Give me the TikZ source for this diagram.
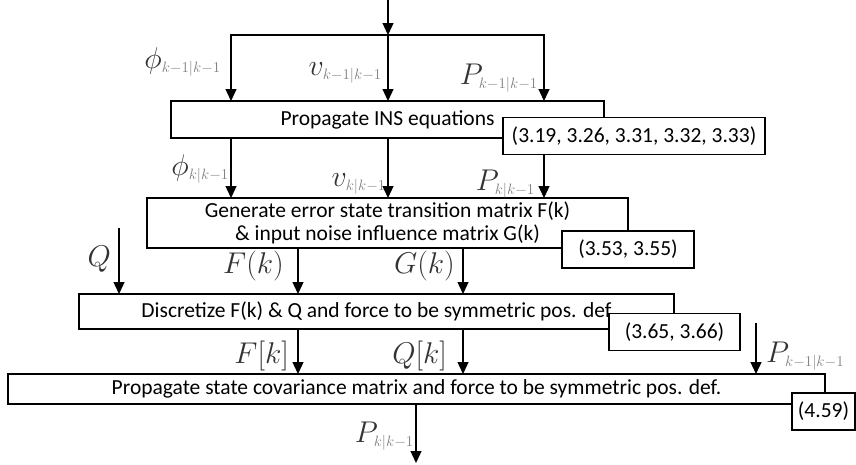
\RequirePackage{fix-cm}
\documentclass[tikz,border=0pt]{standalone}
\usepackage{fontspec}
\setmainfont{Carlito}
\usetikzlibrary{positioning, arrows.meta}

\newcommand{\lblsub}[1]{{\scriptscriptstyle\color{black!50}#1}}

\begin{document}
\begin{tikzpicture}[
  x=1pt, y=-1pt,
  font=\fontsize{21.5}{23.5}\selectfont,
  >={Triangle[width=11pt,length=12pt]},
  procbox/.style={
    draw, line width=1.1pt, fill=white, inner sep=0pt, outer sep=0pt,
    align=center
  },
  eqref/.style={procbox, minimum height=37pt},
  flow/.style={->, line width=1.3pt},
  var/.style={font=\fontsize{30}{32}\selectfont, text=black!80, inner sep=0pt}
]

\useasboundingbox (0,0) rectangle (856,464);

% Processing stages
\node[procbox, minimum width=433pt, minimum height=37pt] (ins) at (387.5,119.5) {Propagate INS equations};
\node[procbox, minimum width=481pt, minimum height=50pt] (trans) at (387.5,223) {Generate error state transition matrix F(k)\\ \& input noise influence matrix G(k)};
\node[procbox, minimum width=595pt, minimum height=35pt] (disc) at (376.5,311.5) {Discretize F(k) \& Q and force to be symmetric pos. def};
\node[procbox, minimum width=817pt, minimum height=30pt] (cov) at (416.5,389) {Propagate state covariance matrix and force to be symmetric pos. def.};

% Column positions
\coordinate (src) at (388,0);
\coordinate (c1) at (231,35);
\coordinate (c2) at (388,35);
\coordinate (c3) at (544,35);
\coordinate (qin) at (119,228);
\coordinate (fcol) at (298,0);
\coordinate (gcol) at (463,0);
\coordinate (pin) at (756,323);
\coordinate (pout) at (416,463);

% Top bus into INS propagation
\draw[flow] (src) -- (c2);
\draw[line width=1.3pt] (c1) -- (c3);
\draw[flow] (c2) -| (c1 |- ins.north);
\draw[flow] (c2) -- (c2 |- ins.north);
\draw[flow] (c2) -| (c3 |- ins.north);

% INS propagation -> transition matrices
\draw[flow] (c1 |- ins.south) -- (c1 |- trans.north);
\draw[flow] (c2 |- ins.south) -- (c2 |- trans.north);
\draw[flow] (c3 |- ins.south) -- (c3 |- trans.north);

% Transition matrices -> discretization
\draw[flow] (qin) -- (qin |- disc.north);
\draw[flow] (fcol |- trans.south) -- (fcol |- disc.north);
\draw[flow] (gcol |- trans.south) -- (gcol |- disc.north);

% Discretization -> covariance propagation
\draw[flow] (fcol |- disc.south) -- (fcol |- cov.north);
\draw[flow] (gcol |- disc.south) -- (gcol |- cov.north);
\draw[flow] (pin) -- (pin |- cov.north);
\draw[flow] (pout |- cov.south) -- (pout);

% Equation references
\node[eqref, minimum width=262pt] (ref1) at (634,136) {(3.19, 3.26, 3.31, 3.32, 3.33)};
\node[eqref, minimum width=132pt] (ref2) at (628,249.5) {(3.53, 3.55)};
\node[eqref, minimum width=131pt] (ref3) at (674.5,332) {(3.65, 3.66)};
\node[eqref, minimum width=63pt] (ref4) at (823.5,411.5) {(4.59)};

% Signal labels
\node[var, anchor=base east] (phi0) at (221,68) {$\phi_{\lblsub{k-1|k-1}}$};
\node[var, anchor=base east] (vel0) at (382,75) {$v_{\lblsub{k-1|k-1}}$};
\node[var, anchor=base east] (pos0) at (538,84) {$P_{\lblsub{k-1|k-1}}$};
\node[var, anchor=base east] (phi1) at (229,175) {$\phi_{\lblsub{k|k-1}}$};
\node[var, anchor=base east] (vel1) at (386,186) {$v_{\lblsub{k|k-1}}$};
\node[var, anchor=base east] (pos1) at (535,190) {$P_{\lblsub{k|k-1}}$};
\node[var, anchor=base east] (qc) at (111,266) {$Q$};
\node[var, anchor=base east] (fc) at (284,273) {$F(k)$};
\node[var, anchor=base east] (gc) at (455,273) {$G(k)$};
\node[var, anchor=base east] (fd) at (289,363) {$F[k]$};
\node[var, anchor=base east] (qd) at (447,363) {$Q[k]$};
\node[var, anchor=base west] (pprev) at (766,362) {$P_{\lblsub{k-1|k-1}}$};
\node[var, anchor=base east] (pnew) at (414,442) {$P_{\lblsub{k|k-1}}$};

\end{tikzpicture}
\end{document}
